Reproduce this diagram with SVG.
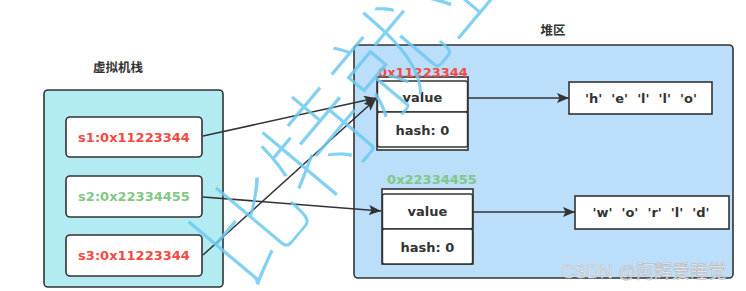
<svg xmlns="http://www.w3.org/2000/svg" width="746" height="291" viewBox="0 0 746 291">
<defs>
<marker id="ah" viewBox="0 0 12 10" refX="12" refY="5" markerWidth="12" markerHeight="10" markerUnits="userSpaceOnUse" orient="auto">
<path d="M0,0 L12,5 L0,10 L2.5,5 Z" fill="#333"/>
</marker>
</defs>
<style>
.t{font-family:"DejaVu Sans",sans-serif;font-weight:bold;font-size:13px;fill:#333;text-anchor:middle}
.cn{font-family:"Noto Sans CJK SC",sans-serif;font-weight:bold;font-size:12.5px;fill:#333;text-anchor:middle}
.red{fill:#f24a44}
.green{fill:#82c785}
.box{fill:#fff;stroke:#333;stroke-width:1.6}
.cell{fill:#fff;stroke:#333;stroke-width:1.4}
.edge{fill:none;stroke:#333;stroke-width:1.6;marker-end:url(#ah)}
</style>
<rect width="746" height="291" fill="#fff"/>
<g id="stack">
<text class="cn" x="118" y="72">虚拟机栈</text>
<rect x="44" y="90" width="179" height="197" rx="4" fill="#b3ebf2" stroke="#333" stroke-width="1.6"/>
</g>
<g id="s1">
<rect class="box" x="66" y="117" width="136" height="40" rx="4"/>
<text class="t red" x="134" y="142">s1:0x11223344</text>
</g>
<g id="s2">
<rect class="box" x="66" y="176" width="136" height="41" rx="4"/>
<text class="t green" x="134" y="201">s2:0x22334455</text>
</g>
<g id="s3">
<rect class="box" x="66" y="235" width="136" height="41" rx="4"/>
<text class="t red" x="134" y="260">s3:0x11223344</text>
</g>
<g id="heap">
<text class="cn" x="553" y="35">堆区</text>
<rect x="354" y="45" width="379" height="233" rx="4" fill="#bbdefb" stroke="#333" stroke-width="1.6"/>
</g>
<g id="obj1">
<rect class="box" x="377" y="77" width="91" height="73"/>
<rect class="cell" x="377.5" y="81" width="90" height="31" rx="2"/>
<rect class="cell" x="377.5" y="112" width="90" height="35" rx="2"/>
<text class="t" x="422.5" y="102">value</text>
<text class="t" x="422.5" y="135">hash: 0</text>
<text class="t red" x="423" y="77">0x11223344</text>
</g>
<g id="obj2">
<rect class="box" x="382" y="189" width="91" height="75"/>
<rect class="cell" x="382.5" y="194" width="90" height="35" rx="2"/>
<rect class="cell" x="382.5" y="229" width="90" height="35" rx="2"/>
<text class="t" x="427.5" y="216">value</text>
<text class="t" x="427.5" y="252">hash: 0</text>
<text class="t green" x="432" y="184">0x22334455</text>
</g>
<g id="hello">
<rect class="box" x="569" y="82" width="143" height="32"/>
<text class="t" x="641" y="103" xml:space="preserve">'h'  'e'  'l'  'l'  'o'</text>
</g>
<g id="world">
<rect class="box" x="575" y="196" width="154" height="33"/>
<text class="t" x="651" y="217" xml:space="preserve">'w'  'o'  'r'  'l'  'd'</text>
</g>
<g id="connectors">
<path class="edge" d="M203,136 L376,98"/>
<path class="edge" d="M203,255 L376,99"/>
<path class="edge" d="M203,197 L381,211"/>
<path class="edge" d="M468,98 L569,98"/>
<path class="edge" d="M473,212 L575,212"/>
</g>
<g id="watermark">
<text transform="translate(384,127) rotate(-50)" x="0" y="0" font-family="Noto Sans CJK SC, sans-serif" font-weight="100" font-size="108" fill="#6cc9f0" fill-opacity="0.85" text-anchor="middle">比特就业</text>
<text x="644" y="278" font-family="Liberation Sans, Noto Sans CJK SC, sans-serif" font-size="18" fill="#f4f4f4" stroke="#b0b0b0" stroke-width="0.5" text-anchor="middle">CSDN @阿辉爱睡觉</text>
</g>
</svg>
